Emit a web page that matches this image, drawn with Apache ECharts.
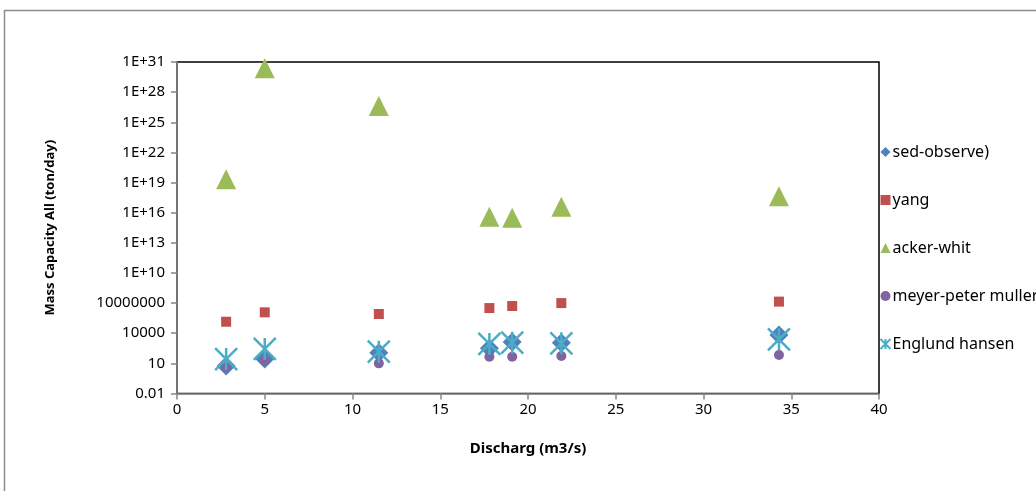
<!DOCTYPE html>
<html>
<head>
<meta charset="utf-8">
<script src="https://cdn.jsdelivr.net/npm/echarts@6/dist/echarts.min.js"></script>
<style>
  html, body { margin: 0; padding: 0; background: #fff; }
  #chart { width: 1036px; height: 491px; }
</style>
</head>
<body>
<div id="chart"></div>
<script>
// Discharge values (m3/s) shared by every method
const discharge = [2.8, 5.0, 11.5, 17.8, 19.1, 21.9, 34.3];

// Sediment mass capacity (ton/day) per method
const sedObserve = [5.5, 27, 115, 316, 1350, 1150, 6600];
const yang = [1.4e5, 1.2e6, 8.2e5, 3.2e6, 5.1e6, 1.0e7, 1.4e7];
const ackerWhite = [2.1e19, 2.4e30, 4.2e26, 4.0e15, 3.2e15, 4.0e16, 4.3e17];
const meyerPeterMuller = [4, 17, 10, 46, 46, 54, 68];
const englundHansen = [27, 270, 145, 850, 1150, 1000, 2500];

// Log axis ticks and their printed labels
const yTickValues = [0.01, 10, 1e4, 1e7, 1e10, 1e13, 1e16, 1e19, 1e22, 1e25, 1e28, 1e31];
const yTickLabels = ['0.01', '10', '10000', '10000000', '1E+10', '1E+13', '1E+16', '1E+19', '1E+22', '1E+25', '1E+28', '1E+31'];

const seriesNames = ['sed-observe)', 'yang', 'acker-whit', 'meyer-peter muller', 'Englund hansen'];

const pairs = ys => discharge.map((x, i) => [x, ys[i]]);

// keep the top tick inside the axis extent despite floating-point rounding
const yTickPositions = yTickValues.map((v, i, a) => (i === a.length - 1 ? v * 0.999999 : v));

const font = 'Noto Sans';
const starPath = 'path://M0,0L20,20M20,0L0,20M10,0L10,20';

const chart = echarts.init(document.getElementById('chart'), null, { renderer: 'canvas' });

chart.setOption({
  backgroundColor: '#ffffff',
  animation: false,
  graphic: [{
    type: 'rect',
    shape: { x: 4.5, y: 10.5, width: 1100, height: 600 },
    style: { fill: 'none', stroke: '#8c8c8c', lineWidth: 1.5 },
    silent: true,
    z: -10
  }],
  grid: {
    left: 177, right: 157, top: 62, bottom: 97.5,
    show: true, borderColor: '#000000', borderWidth: 1.5,
    backgroundColor: 'transparent'
  },
  legend: {
    orient: 'vertical',
    left: 873, top: 139,
    itemWidth: 10, itemHeight: 10, itemGap: 32,
    textStyle: { fontFamily: font, fontSize: 16, color: '#000', lineHeight: 16, padding: [0, 0, 0, -3] },
    data: seriesNames
  },
  xAxis: {
    type: 'value',
    min: 0, max: 40, interval: 5,
    name: 'Discharg (m3/s)',
    nameLocation: 'middle',
    nameGap: 48,
    nameTextStyle: { fontFamily: font, fontSize: 15, fontWeight: 'bold', color: '#000' },
    axisLine: { show: true, onZero: false, lineStyle: { color: '#868686', width: 1.5 } },
    axisTick: { show: true, inside: false, length: 6, lineStyle: { color: '#868686', width: 1.5 } },
    axisLabel: { fontFamily: font, fontSize: 15, color: '#000', margin: 9 },
    splitLine: { show: false }
  },
  yAxis: {
    type: 'log',
    logBase: 10,
    min: 0.01, max: 1e31,
    name: 'Mass Capacity All (ton/day)',
    nameLocation: 'middle',
    nameGap: 120,
    nameRotate: 90,
    nameTextStyle: { fontFamily: font, fontSize: 13, fontWeight: 'bold', color: '#000' },
    axisLine: { show: true, lineStyle: { color: '#868686', width: 1.5 } },
    axisTick: { show: true, inside: false, length: 6, customValues: yTickPositions, lineStyle: { color: '#868686', width: 1.5 } },
    axisLabel: {
      fontFamily: font, fontSize: 15, color: '#000', margin: 12,
      customValues: yTickPositions,
      formatter: v => {
        const e = Math.round(Math.log10(v));
        const idx = yTickValues.findIndex(t => Math.round(Math.log10(t)) === e);
        return idx >= 0 ? yTickLabels[idx] : '';
      }
    },
    splitLine: { show: false }
  },
  series: [
    {
      name: seriesNames[0], type: 'scatter', symbol: 'diamond', symbolSize: 19,
      itemStyle: { color: '#4F81BD', opacity: 1 },
      data: pairs(sedObserve), z: 2
    },
    {
      name: seriesNames[1], type: 'scatter', symbol: 'rect', symbolSize: 10,
      itemStyle: { color: '#C0504D', opacity: 1 },
      data: pairs(yang), z: 3
    },
    {
      name: seriesNames[2], type: 'scatter', symbol: 'triangle', symbolSize: [20, 20],
      itemStyle: { color: '#9BBB59', opacity: 1 },
      data: pairs(ackerWhite), z: 4
    },
    {
      name: seriesNames[3], type: 'scatter', symbol: 'circle', symbolSize: 10,
      itemStyle: { color: '#8064A2', opacity: 1 },
      data: pairs(meyerPeterMuller), z: 5
    },
    {
      name: seriesNames[4], type: 'scatter', symbol: starPath, symbolSize: 22,
      itemStyle: { color: 'none', borderColor: '#4BACC6', borderWidth: 2.5, opacity: 1 },
      data: pairs(englundHansen), z: 6
    }
  ]
});
</script>
</body>
</html>
